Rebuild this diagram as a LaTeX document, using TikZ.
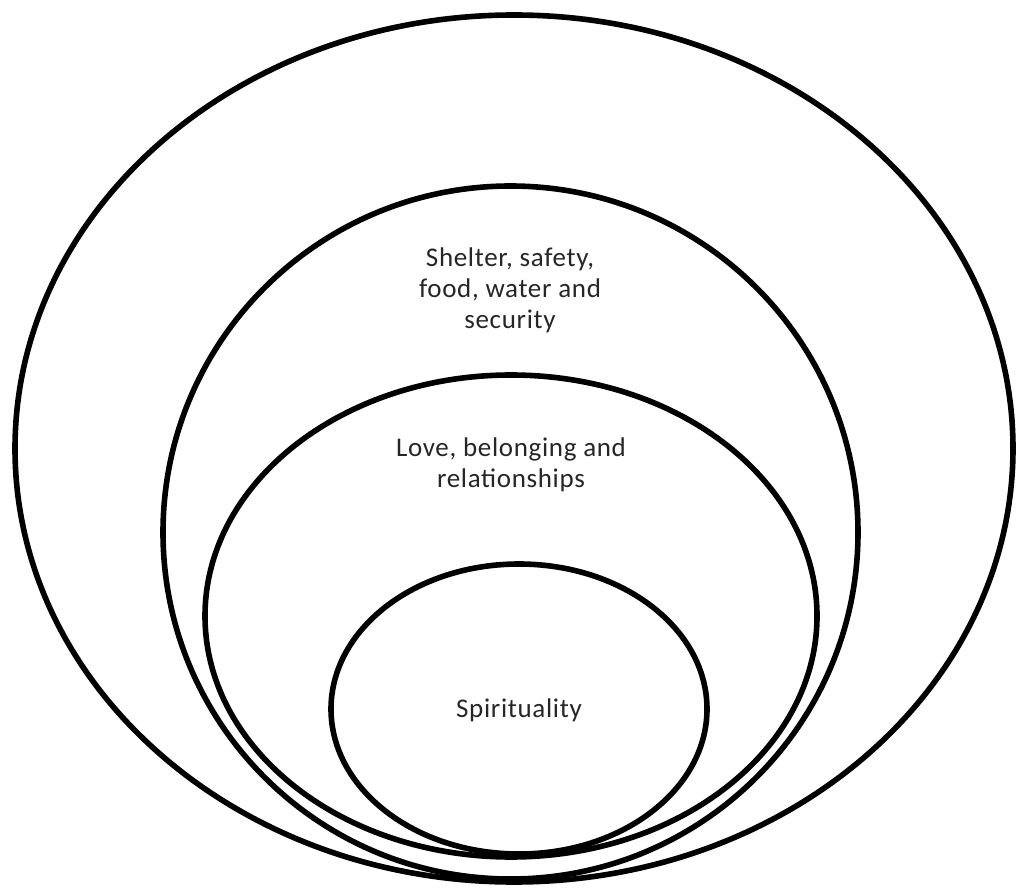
\documentclass[tikz,border=0pt]{standalone}
\usepackage{fontspec}
\setmainfont{Carlito}[LetterSpace=2.5]
\usetikzlibrary{shapes.geometric}
\tikzset{
  ring/.style={draw=black, line width=5.6pt, ellipse, inner sep=0pt, fill=none},
  lbl/.style={align=center, inner sep=0pt, anchor=base, text=black!85, font={\fontsize{27}{31.3}\selectfont}}
}
\begin{document}
\begin{tikzpicture}[x=1pt,y=-1pt]
\useasboundingbox[fill=white] (0,0) rectangle (1018,890);
\node[ring, minimum width=998pt, minimum height=867pt] (outer) at (514,448.5) {};
\node[ring, minimum width=695pt, minimum height=693pt] (shelter) at (510.5,532.5) {};
\node[ring, minimum width=612pt, minimum height=482pt] (love) at (511,616) {};
\node[ring, minimum width=376pt, minimum height=290pt] (spirit) at (519,709) {};
\node[lbl] (tshelter) at (510,329) {Shelter, safety,\\food, water and\\security};
\node[lbl] (tlove) at (511,488) {Love, belonging and\\relationships};
\node[lbl] (tspirit) at (519,717) {Spirituality};
\end{tikzpicture}
\end{document}
